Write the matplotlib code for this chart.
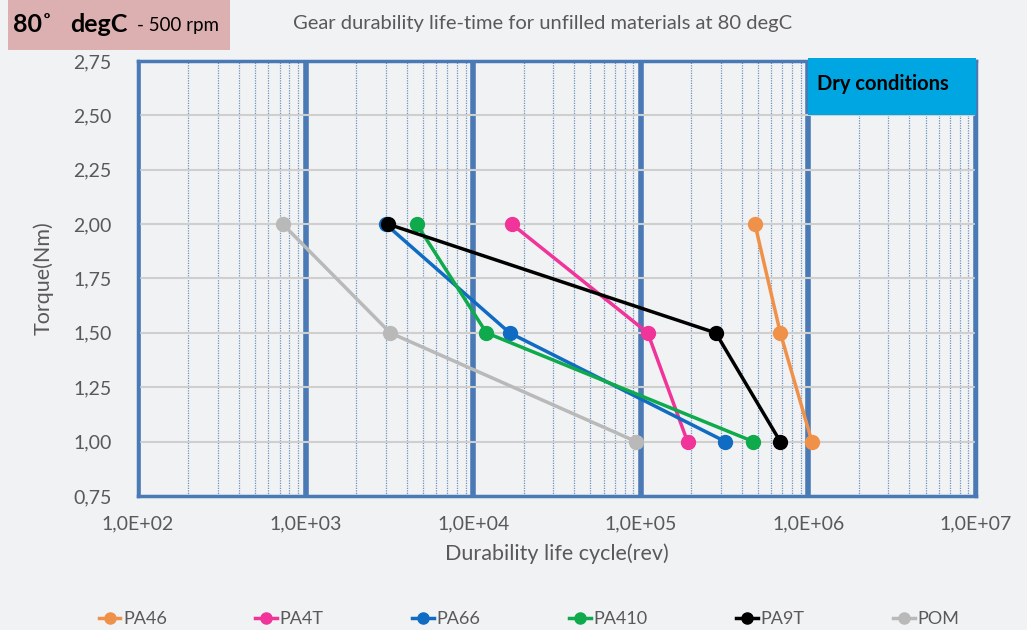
import math
import matplotlib
matplotlib.use("Agg")
import matplotlib.pyplot as plt
from matplotlib import ticker
from matplotlib.patches import Rectangle

plt.rcParams['font.family'] = ['Lato', 'DejaVu Sans']

# Data
torque = [2.00, 1.50, 1.00]
materials = ["PA46", "PA4T", "PA66", "PA410", "PA9T", "POM"]
pa46 = [4.8e5, 6.8e5, 1.05e6]
pa4t = [1.7e4, 1.1e5, 1.9e5]
pa66 = [3.0e3, 1.65e4, 3.2e5]
pa410 = [4.6e3, 1.2e4, 4.7e5]
pa9t = [3.1e3, 2.8e5, 6.8e5]
pom = [7.3e2, 3.2e3, 9.4e4]
series = [pa46, pa4t, pa66, pa410, pa9t, pom]
colors = ["#f0914a", "#f0349a", "#0f6cc2", "#0eaa4c", "#000000", "#b9b9b9"]

bg = "#f1f2f4"
blue = "#4a7ab5"
gray_txt = "#595959"

fig = plt.figure(figsize=(10.27, 6.3), dpi=100, facecolor=bg)
ax = fig.add_axes([0.1344, 0.2127, 0.8159, 0.6905], facecolor=bg)

ax.set_xscale("log")
ax.set_xlim(1e2, 1e7)
ax.set_ylim(0.75, 2.75)

# grid: thick decades, dotted minors, gray horizontals
ax.xaxis.set_major_locator(ticker.LogLocator(base=10))
ax.xaxis.set_minor_locator(ticker.LogLocator(base=10, subs=range(2, 10)))
ax.grid(True, which="major", axis="x", color=blue, lw=4, zorder=1)
ax.grid(True, which="minor", axis="x", color=blue, lw=0.9, ls=(0, (1, 1)), alpha=0.8, zorder=1)
ax.yaxis.set_major_locator(ticker.MultipleLocator(0.25))
ax.grid(True, which="major", axis="y", color="#cfcfcf", lw=1.5, zorder=1)

for sp in ax.spines.values():
    sp.set_color(blue)
    sp.set_linewidth(2.5)

ax.xaxis.set_major_formatter(ticker.FuncFormatter(
    lambda v, p: "1,0E+%02d" % round(math.log10(v))))
ax.yaxis.set_major_formatter(ticker.FuncFormatter(lambda v, p: f"{v:.2f}".replace(".", ",")))
ax.tick_params(axis="both", which="both", length=0, labelsize=14, colors=gray_txt)
ax.tick_params(axis="x", pad=14)
ax.tick_params(axis="y", pad=19)

for name, vals, c in zip(materials, series, colors):
    ax.plot(vals, torque, color=c, lw=2.5, marker="o", ms=10, label=name, zorder=3)

ax.set_xlabel("Durability life cycle(rev)", fontsize=15.5, color=gray_txt, labelpad=8)
ax.set_ylabel("Torque(Nm)", fontsize=15.5, color=gray_txt, labelpad=14)

# "Dry conditions" box, top-right
ax.add_patch(Rectangle((0.8, 0.876), 0.2, 0.131, transform=ax.transAxes,
                       facecolor="#00a6e2", edgecolor="none", zorder=4, clip_on=False))
ax.text(0.81, 0.946, "Dry conditions", transform=ax.transAxes, fontsize=14.5,
        fontweight="bold", color="black", va="center", ha="left", zorder=5)

# header box, top-left
fig.patches.append(Rectangle((8 / 1027, 1 - 50 / 630), 222 / 1027, 50 / 630,
                             transform=fig.transFigure, facecolor="#dcafb0",
                             edgecolor="none"))
fig.text(13 / 1027, 1 - 25 / 630, "80˚", fontsize=18, fontweight="bold",
         va="center", ha="left")
fig.text(70 / 1027, 1 - 25 / 630, "degC", fontsize=18, fontweight="bold",
         va="center", ha="left")
fig.text(137 / 1027, 1 - 26 / 630, "- 500 rpm", fontsize=13.5, va="center", ha="left")

fig.text(543 / 1027, 1 - 24 / 630,
         "Gear durability life-time for unfilled materials at 80 degC",
         fontsize=14.5, color=gray_txt, ha="center", va="center")

leg = fig.legend(loc="center", bbox_to_anchor=(0.515, 1 - 619 / 630), ncol=6,
                 frameon=False, fontsize=13, columnspacing=4.9, handlelength=1.2,
                 handletextpad=0.15, markerscale=0.8)
for t in leg.get_texts():
    t.set_color(gray_txt)

fig.savefig("out.png", dpi=100, facecolor=bg)
